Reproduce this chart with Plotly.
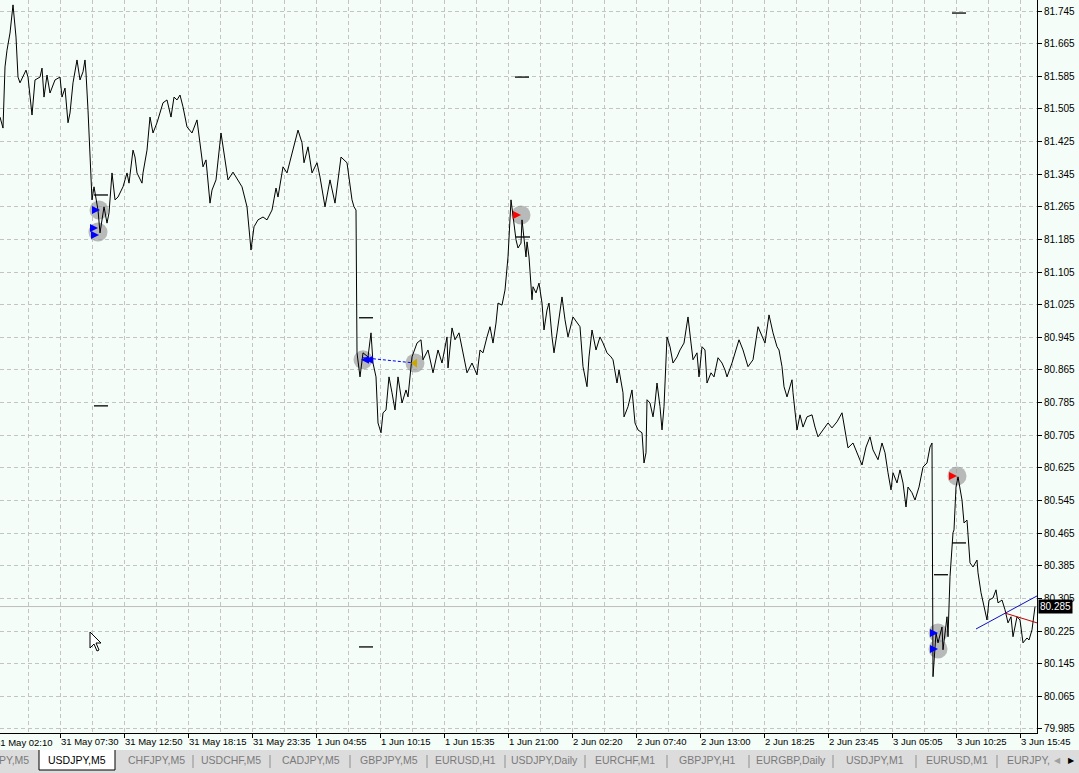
import plotly.graph_objects as go

# USDJPY,M5 close line; bar number counted from 31 May 02:10 (64 bars per time label)
bars = [
    4, 7, 9, 11, 14, 17, 20, 22, 24, 30, 32, 35, 36, 39, 44, 46, 48, 51, 54, 59,
    64, 66, 69, 72, 74, 77, 81, 84, 87, 89, 90, 92, 96, 98, 102, 104, 108, 111, 113, 116,
    119, 122, 127, 131, 133, 137, 139, 141, 146, 147, 151, 154, 157, 161, 167, 171, 175, 178, 181, 184,
    187, 191, 196, 201, 204, 207, 210, 212, 214, 216, 220, 225, 228, 232, 237, 243, 246, 251, 255, 258,
    262, 267, 271, 276, 280, 282, 287, 291, 302, 306, 308, 312, 316, 321, 324, 329, 334, 339, 345, 351,
    356, 358, 360, 361, 364, 367, 372, 375, 377, 380, 382, 385, 387, 390, 393, 396, 399, 402, 406, 410,
    412, 416, 421, 425, 427, 432, 437, 442, 446, 451, 452, 456, 459, 463, 467, 471, 476, 481, 484, 487,
    491, 494, 497, 500, 502, 506, 509, 512, 515, 517, 520, 522, 525, 526, 528, 530, 531, 533, 536, 537,
    540, 543, 546, 548, 551, 553, 556, 558, 561, 566, 569, 572, 577, 581, 584, 587, 591, 593, 596, 600,
    604, 607, 611, 615, 617, 621, 623, 627, 628, 632, 636, 639, 642, 646, 648, 650, 651, 654, 657, 659,
    661, 664, 666, 668, 671, 674, 677, 681, 684, 688, 692, 695, 697, 701, 703, 706, 709, 711, 715, 718,
    722, 726, 729, 731, 736, 743, 747, 752, 757, 762, 766, 769, 773, 777, 781, 783, 786, 788, 791, 796,
    797, 800, 801, 804, 807, 811, 816, 819, 822, 827, 832, 836, 841, 846, 849, 852, 857, 861, 866, 870,
    874, 877, 882, 886, 889, 892, 895, 897, 901, 904, 907, 910, 912, 916, 919, 923, 927, 931, 934, 936,
    937, 940, 942, 946, 947, 951, 952, 954, 957, 958, 960, 962, 964, 966, 968, 971, 974, 977, 981, 982,
    985, 988, 991, 993, 997, 1000, 1002, 1006, 1009, 1012, 1015, 1017, 1021, 1024, 1027, 1031, 1033, 1036, 1039,
]
closes = [
    81.485, 81.458, 81.608, 81.649, 81.691, 81.760, 81.681, 81.583, 81.569, 81.600, 81.583, 81.502, 81.490, 81.576, 81.583, 81.605, 81.534, 81.588, 81.544, 81.576,
    81.583, 81.534, 81.556, 81.471, 81.495, 81.569, 81.625, 81.576, 81.596, 81.625, 81.593, 81.502, 81.282, 81.314, 81.257, 81.201, 81.265, 81.225, 81.250, 81.348,
    81.282, 81.289, 81.314, 81.348, 81.323, 81.404, 81.387, 81.348, 81.323, 81.348, 81.404, 81.485, 81.446, 81.471, 81.520, 81.527, 81.485, 81.534, 81.527, 81.539,
    81.510, 81.461, 81.446, 81.478, 81.422, 81.363, 81.380, 81.331, 81.274, 81.306, 81.331, 81.446, 81.397, 81.331, 81.350, 81.326, 81.314, 81.265, 81.159, 81.216,
    81.233, 81.240, 81.233, 81.257, 81.311, 81.289, 81.363, 81.348, 81.453, 81.422, 81.373, 81.412, 81.348, 81.373, 81.338, 81.265, 81.331, 81.274, 81.387, 81.373,
    81.282, 81.265, 81.257, 80.907, 80.848, 80.907, 80.897, 80.956, 80.882, 80.848, 80.735, 80.711, 80.760, 80.767, 80.848, 80.809, 80.767, 80.848, 80.784, 80.816,
    80.799, 80.897, 80.931, 80.939, 80.890, 80.914, 80.858, 80.914, 80.882, 80.946, 80.870, 80.968, 80.939, 80.956, 80.907, 80.858, 80.882, 80.853, 80.914, 80.907,
    80.946, 80.971, 80.931, 80.980, 81.029, 81.024, 81.061, 81.142, 81.282, 81.240, 81.184, 81.164, 81.176, 81.233, 81.184, 81.142, 81.179, 81.142, 81.037, 81.069,
    81.054, 81.078, 81.029, 80.963, 81.012, 81.029, 80.946, 80.907, 80.956, 81.044, 80.988, 80.946, 80.995, 80.980, 80.971, 80.873, 80.824, 80.897, 80.963, 80.914,
    80.946, 80.931, 80.907, 80.897, 80.890, 80.833, 80.865, 80.809, 80.750, 80.775, 80.816, 80.735, 80.718, 80.711, 80.637, 80.662, 80.792, 80.784, 80.750, 80.784,
    80.833, 80.775, 80.718, 80.775, 80.946, 80.922, 80.882, 80.897, 80.914, 80.931, 80.995, 80.931, 80.890, 80.907, 80.848, 80.922, 80.914, 80.833, 80.858, 80.848,
    80.895, 80.882, 80.865, 80.848, 80.882, 80.939, 80.914, 80.873, 80.890, 80.971, 80.946, 80.931, 81.000, 80.956, 80.922, 80.914, 80.873, 80.824, 80.799, 80.841,
    80.809, 80.735, 80.718, 80.755, 80.725, 80.750, 80.755, 80.725, 80.701, 80.718, 80.735, 80.723, 80.738, 80.760, 80.718, 80.674, 80.686, 80.664, 80.632, 80.676,
    80.701, 80.669, 80.645, 80.686, 80.662, 80.613, 80.571, 80.613, 80.588, 80.620, 80.588, 80.529, 80.578, 80.564, 80.546, 80.578, 80.627, 80.637, 80.676, 80.686,
    80.113, 80.220, 80.196, 80.235, 80.179, 80.260, 80.211, 80.358, 80.466, 80.473, 80.578, 80.603, 80.578, 80.546, 80.490, 80.497, 80.392, 80.382, 80.399, 80.368,
    80.319, 80.284, 80.252, 80.301, 80.306, 80.326, 80.294, 80.301, 80.277, 80.245, 80.260, 80.211, 80.260, 80.252, 80.196, 80.208, 80.203, 80.228, 80.285,
]

time_labels = ["31 May 02:10", "31 May 07:30", "31 May 12:50", "31 May 18:15", "31 May 23:35",
               "1 Jun 04:55", "1 Jun 10:15", "1 Jun 15:35", "1 Jun 21:00", "2 Jun 02:20",
               "2 Jun 07:40", "2 Jun 13:00", "2 Jun 18:25", "2 Jun 23:45", "3 Jun 05:05",
               "3 Jun 10:25", "3 Jun 15:45"]
label_bars = [64 * i for i in range(len(time_labels))]

last_price = 80.285

# trade marks (gray halo + arrow)
buy_bars = [104, 102, 103, 942, 942]
buy_prices = [81.257, 81.213, 81.196, 80.220, 80.181]
sell_bars = [525, 961]
sell_prices = [81.245, 80.605]
halo_bars = [103, 102, 367, 419, 525, 961, 942, 942]
halo_prices = [81.257, 81.203, 80.890, 80.882, 81.245, 80.605, 80.220, 80.181]
close_bars = [365, 369]
close_prices = [80.890, 80.890]
exit_bar, exit_price = 419, 80.882
link_bars = [367, 419]
link_prices = [80.895, 80.882]

# order level dashes
dash_bars = [105, 105, 370, 526, 963, 370, 945, 963, 527]
dash_prices = [81.294, 80.777, 80.993, 81.583, 81.740, 80.186, 80.363, 80.441, 81.191]

# trend lines
blue_line = ([980, 1041], [80.230, 80.311])
red_line = ([1009, 1041], [80.269, 80.245])

tabs = ["PY,M5", "USDJPY,M5", "CHFJPY,M5", "USDCHF,M5", "CADJPY,M5", "GBPJPY,M5", "EURUSD,H1",
        "USDJPY,Daily", "EURCHF,M1", "GBPJPY,H1", "EURGBP,Daily", "USDJPY,M1", "EURUSD,M1", "EURJPY,"]
tab_x = [14, 77, 156, 231, 311, 389, 465, 544, 625, 707, 791, 875, 957, 1028]
sep_x = [193, 270, 350, 427, 505, 585, 667, 749, 833, 916, 997]

W, H = 1079, 773
PW, PH = 1037, 733   # plot area in pixels
BG = "#F4FDF7"
FONT = "Liberation Sans"
GRID = "#C4C4C4"


def px(x):
    return x / PW


def py(y):
    return 1 - y / PH


fig = go.Figure()

fig.add_trace(go.Scatter(x=halo_bars, y=halo_prices, mode="markers", hoverinfo="skip",
                         marker=dict(size=19, color="rgba(150,150,150,0.65)")))
fig.add_trace(go.Scatter(x=link_bars, y=link_prices, mode="lines", hoverinfo="skip",
                         line=dict(color="#0000FF", width=1, dash="3px,2px")))
fig.add_trace(go.Scatter(x=bars, y=closes, mode="lines", name="USDJPY,M5",
                         line=dict(color="black", width=1)))
fig.add_trace(go.Scatter(x=buy_bars, y=buy_prices, mode="markers", hoverinfo="skip",
                         marker=dict(symbol="arrow-right", size=8, color="#0000FF")))
fig.add_trace(go.Scatter(x=sell_bars, y=sell_prices, mode="markers", hoverinfo="skip",
                         marker=dict(symbol="arrow-right", size=8, color="#FF0000")))
fig.add_trace(go.Scatter(x=close_bars, y=close_prices, mode="markers", hoverinfo="skip",
                         marker=dict(symbol="arrow-left", size=8, color="#0000FF")))
fig.add_trace(go.Scatter(x=[exit_bar], y=[exit_price], mode="markers", hoverinfo="skip",
                         marker=dict(symbol="triangle-left", size=8, color="#C8A800")))
fig.add_trace(go.Scatter(x=dash_bars, y=dash_prices, mode="markers", hoverinfo="skip",
                         marker=dict(symbol="line-ew", size=10, line=dict(color="black", width=1.3))))
fig.add_trace(go.Scatter(x=blue_line[0], y=blue_line[1], mode="lines", hoverinfo="skip",
                         line=dict(color="#1010C0", width=1)))
fig.add_trace(go.Scatter(x=red_line[0], y=red_line[1], mode="lines", hoverinfo="skip",
                         line=dict(color="#C00000", width=1)))

shapes = [
    # bid line
    dict(type="line", xref="paper", yref="y", x0=0, x1=1, y0=last_price, y1=last_price,
         line=dict(color="#BDBDBD", width=1), layer="below"),
    # tab bar
    dict(type="rect", xref="paper", yref="paper", x0=px(0), x1=px(W), y0=py(H), y1=py(750),
         fillcolor="#DCDCDC", line=dict(width=0)),
    dict(type="rect", xref="paper", yref="paper", x0=px(39), x1=px(115), y0=py(770), y1=py(750),
         fillcolor="white", line=dict(width=0)),
    dict(type="path", xref="paper", yref="paper",
         path=f"M {px(39)},{py(750)} L {px(39)},{py(770)} L {px(115)},{py(770)} L {px(115)},{py(750)}",
         line=dict(color="black", width=1)),
    # mouse pointer
    dict(type="path", xref="paper", yref="paper",
         path=(f"M {px(90)},{py(632)} L {px(90)},{py(648)} L {px(94)},{py(644)} L {px(97)},{py(651)} "
               f"L {px(99)},{py(650)} L {px(96)},{py(643)} L {px(101)},{py(643)} Z"),
         fillcolor="white", line=dict(color="black", width=1)),
]
for sx in sep_x:
    shapes.append(dict(type="line", xref="paper", yref="paper", x0=px(sx), x1=px(sx),
                       y0=py(755), y1=py(768), line=dict(color="#909090", width=1)))

annotations = [
    dict(x=1, xref="paper", xanchor="left", xshift=1, y=last_price, yref="y", yanchor="middle",
         text=f"{last_price:.3f}", showarrow=False, bgcolor="black",
         font=dict(color="white", size=10, family=FONT), borderpad=1),
    # first time label: its tick lies just left of the visible bars
    dict(x=px(-4), xref="paper", xanchor="left", xshift=-3, y=py(742), yref="paper", yanchor="middle",
         text=time_labels[0], showarrow=False, font=dict(color="black", size=9.5, family=FONT)),
    dict(x=px(1057), xref="paper", xanchor="center", y=py(761), yref="paper", yanchor="middle",
         text="◀", showarrow=False, font=dict(color="#A0A0A0", size=8, family="DejaVu Sans")),
    dict(x=px(1071), xref="paper", xanchor="center", y=py(761), yref="paper", yanchor="middle",
         text="▶", showarrow=False, font=dict(color="black", size=8, family="DejaVu Sans")),
]
for name, tx in zip(tabs, tab_x):
    annotations.append(dict(x=px(tx), xref="paper", xanchor="center", y=py(760), yref="paper",
                            yanchor="middle", text=name, showarrow=False,
                            font=dict(size=10.5, family=FONT,
                                      color="black" if name == "USDJPY,M5" else "#7A7A7A")))

fig.update_layout(
    width=W, height=H,
    margin=dict(l=0, r=W - PW, t=0, b=H - PH, pad=0, autoexpand=False),
    paper_bgcolor=BG, plot_bgcolor=BG,
    showlegend=False,
    font=dict(family=FONT, size=10, color="black"),
    shapes=shapes, annotations=annotations,
    xaxis=dict(range=[4, 1041], tickmode="array", tickvals=label_bars, ticktext=time_labels,
               ticklabelposition="outside right", tickangle=0, automargin=False,
               ticks="outside", ticklen=4, tickcolor="black",
               showline=True, linecolor="black", linewidth=1, zeroline=False,
               showgrid=True, gridcolor=GRID, griddash="4px,3px", gridwidth=1,
               minor=dict(tickmode="linear", tick0=0, dtick=32, showgrid=True,
                          gridcolor=GRID, griddash="4px,3px", ticks=""),
               tickfont=dict(size=9.5, family=FONT)),
    yaxis=dict(side="right", range=[79.975, 81.772], tick0=79.985, dtick=0.08, tickformat=".3f",
               automargin=False, ticks="outside", ticklen=4, tickcolor="black",
               showline=True, linecolor="black", linewidth=1, zeroline=False,
               showgrid=True, gridcolor=GRID, griddash="4px,3px", gridwidth=1,
               tickfont=dict(size=10, family=FONT)),
)

# drop the page's default body margin so the figure sits at the window's corner
fig.write_html("out.html", config={"displayModeBar": False},
               post_script="document.body.style.margin='0';document.body.style.overflow='hidden';")
